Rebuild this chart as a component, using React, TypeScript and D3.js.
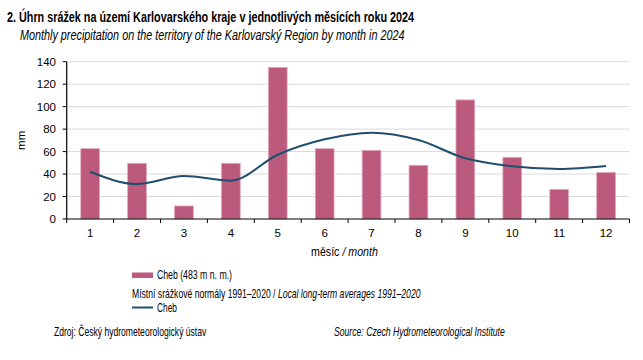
import React, { useLayoutEffect, useRef, useState } from "react";
import * as d3 from "d3";

const months = ["1", "2", "3", "4", "5", "6", "7", "8", "9", "10", "11", "12"];
const precip2024 = [62.6, 49.6, 11.6, 49.6, 135, 62.6, 61.1, 47.8, 106, 54.9, 26.4, 41.5];
const normal = [42.1, 31.1, 38.3, 34.1, 57.2, 70.9, 76.8, 70.3, 54, 46.9, 44.5, 47.2];
const yTicks = [0, 20, 40, 60, 80, 100, 120, 140];

const FONT = "'Liberation Sans', Arial, sans-serif";
const BAR = "#BC5A7D";
const BAR_STROKE = "#E3A9BE";
const LINE = "#1F4E6E";

function FitText(props: {
  x: number;
  y: number;
  width: number;
  fontSize: number;
  fontStyle?: string;
  fontWeight?: string;
  children: React.ReactNode;
}) {
  const { x, y, width, fontSize, fontStyle, fontWeight, children } = props;
  const ref = useRef<SVGTextElement>(null);
  const [s, setS] = useState(1);
  useLayoutEffect(() => {
    if (ref.current) {
      const w = ref.current.getBBox().width;
      if (w > 0) setS(width / w);
    }
  }, [width]);
  return (
    <text
      ref={ref}
      x={0}
      y={0}
      transform={`translate(${x},${y}) scale(${s},1)`}
      fontSize={fontSize}
      fontStyle={fontStyle}
      fontWeight={fontWeight}
      fill="#000"
    >
      {children}
    </text>
  );
}

export default function App() {
  const W = 643, H = 360;
  const left = 66.7, right = 629.5, top = 61.7, bottom = 219;
  const x = d3.scaleBand<string>().domain(months).range([left, right]).paddingInner(0).paddingOuter(0);
  const y = d3.scaleLinear().domain([0, 140]).range([bottom, top]);
  const bw = x.bandwidth() * 0.4;
  const line = d3
    .line<number>()
    .x((_, i) => (x(months[i]) as number) + x.bandwidth() / 2)
    .y((d) => y(d))
    .curve(d3.curveMonotoneX);

  const fs = 12.5;

  return (
    <svg width={W} height={H} style={{ position: "absolute", left: 0, top: 0, background: "#fff" }} fontFamily={FONT}>
      <rect x={0} y={0} width={W} height={H} fill="#fff" />
      <FitText x={7} y={22} width={408} fontSize={15} fontWeight="bold">
        2. Úhrn srážek na území Karlovarského kraje v jednotlivých měsících roku 2024
      </FitText>
      <FitText x={20} y={40} width={385} fontSize={14} fontStyle="italic">
        Monthly precipitation on the territory of the Karlovarský Region by month in 2024
      </FitText>

      {yTicks.map((t) => (
        <g key={t}>
          {t > 0 && <line x1={left} x2={right} y1={y(t)} y2={y(t)} stroke="#D9D9D9" strokeWidth={1} />}
          <line x1={left - 4} x2={left} y1={y(t)} y2={y(t)} stroke="#000" />
          <text x={56} y={y(t) + 4} fontSize={11.5} textAnchor="end" fill="#000">
            {t}
          </text>
        </g>
      ))}
      <text transform={`translate(25,${(top + bottom) / 2}) rotate(-90)`} fontSize={11.5} textAnchor="middle" fill="#000">
        mm
      </text>

      {months.map((m, i) => (
        <rect
          key={m}
          x={(x(m) as number) + (x.bandwidth() - bw) / 2}
          y={y(precip2024[i])}
          width={bw}
          height={bottom - y(precip2024[i])}
          fill={BAR}
          stroke={BAR_STROKE}
          strokeWidth={0.8}
        />
      ))}

      <path d={line(normal) as string} fill="none" stroke={LINE} strokeWidth={2} />

      <line x1={left} x2={right} y1={bottom} y2={bottom} stroke="#000" strokeWidth={1.2} />
      <line x1={left} x2={left} y1={top} y2={bottom} stroke="#000" strokeWidth={1.2} />
      {[...months.map((m) => x(m) as number), right].map((v, i) => (
        <line key={i} x1={v} x2={v} y1={bottom} y2={bottom + 4} stroke="#000" />
      ))}
      {months.map((m) => (
        <text key={m} x={(x(m) as number) + x.bandwidth() / 2} y={237} fontSize={11.5} textAnchor="middle" fill="#000">
          {m}
        </text>
      ))}
      <FitText x={311} y={256} width={67} fontSize={fs}>
        měsíc <tspan fontStyle="italic">/ month</tspan>
      </FitText>

      <rect x={132} y={272.5} width={21} height={5.5} fill={BAR} />
      <FitText x={157} y={279} width={75} fontSize={fs}>Cheb (483 m n. m.)</FitText>
      <FitText x={132} y={298} width={289} fontSize={fs}>
        Místní srážkové normály 1991–2020 / <tspan fontStyle="italic">Local long-term averages 1991–2020</tspan>
      </FitText>
      <line x1={132} x2={153} y1={307.5} y2={307.5} stroke={LINE} strokeWidth={2} />
      <FitText x={157} y={312} width={20} fontSize={fs}>Cheb</FitText>

      <FitText x={54} y={336} width={153} fontSize={fs}>Zdroj: Český hydrometeorologický ústav</FitText>
      <FitText x={334} y={336} width={171} fontSize={fs} fontStyle="italic">
        Source: Czech Hydrometeorological Institute
      </FitText>
    </svg>
  );
}
